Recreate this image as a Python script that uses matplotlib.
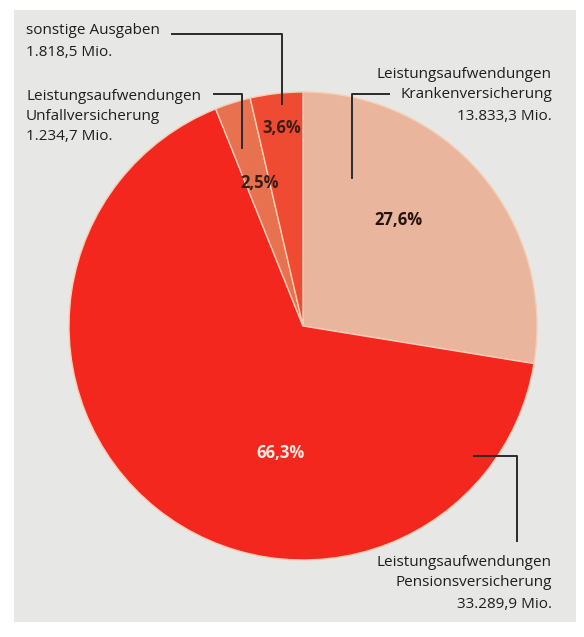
import numpy as np
import matplotlib.pyplot as plt
from matplotlib.patches import Rectangle

# Daten (Mio.)
namen = ["Krankenversicherung", "Pensionsversicherung", "Unfallversicherung", "sonstige Ausgaben"]
werte = [13833.3, 33289.9, 1234.7, 1818.5]
farben = ['#e9b59c', '#f4271f', '#e8724f', '#ee4b32']
pct_farben = ['#22140f', '#fbe9e0', '#3a1e16', '#3a1e16']

W, H = 584, 637
plt.rcParams['font.family'] = ['Open Sans', 'DejaVu Sans']

fig = plt.figure(figsize=(W / 100, H / 100), dpi=100)
fig.patch.set_facecolor('white')
ax = fig.add_axes([0, 0, 1, 1])

# grauer Hintergrund
ax.add_patch(Rectangle((14, H - 622), 562, 612, facecolor='#e7e7e5', edgecolor='none', zorder=0))

def py(y):
    # Pixel-y (von oben) -> Daten-y
    return H - y

cx, cy, r = 303, py(326), 234

wedges, texts, autotexts = ax.pie(
    werte,
    colors=farben,
    startangle=90,
    counterclock=False,
    center=(cx, cy),
    radius=r,
    autopct=lambda p: f"{p:.1f}%".replace('.', ','),
    wedgeprops=dict(edgecolor='#f6cdb5', linewidth=1.0),
    textprops=dict(fontsize=12, fontweight='bold'),
    frame=True,
)
ax.set_xlim(0, W)
ax.set_ylim(0, H)
ax.set_aspect('equal')
ax.axis('off')

# Position der Prozentwerte (Abstand relativ zum Radius, Winkel)
pct_abstand = [0.61, 0.55, 0.64, 0.85]
pct_winkel = [48, 260, 107, 96]
for t, d, a, c in zip(autotexts, pct_abstand, pct_winkel, pct_farben):
    t.set_position((cx + d * r * np.cos(np.radians(a)), cy + d * r * np.sin(np.radians(a))))
    t.set_color(c)

txt = '#1e1e1e'
fs = 11
fw = 'medium'
lc = '#2a2a2a'
lw = 1.4

# sonstige Ausgaben
ax.text(26, py(31), "sonstige Ausgaben", fontsize=fs, fontweight=fw, color=txt, va='center', ha='left')
ax.text(26, py(52), "1.818,5 Mio.", fontsize=fs, fontweight=fw, color=txt, va='center', ha='left')
ax.plot([172, 282, 282], [py(34), py(34), py(104)], color=lc, lw=lw)

# Unfallversicherung
ax.text(26, py(96), "Leistungsaufwendungen", fontsize=fs, fontweight=fw, color=txt, va='center', ha='left')
ax.text(26, py(117), "Unfallversicherung", fontsize=fs, fontweight=fw, color=txt, va='center', ha='left')
ax.text(26, py(137), "1.234,7 Mio.", fontsize=fs, fontweight=fw, color=txt, va='center', ha='left')
ax.plot([214, 242, 242], [py(94), py(94), py(148)], color=lc, lw=lw)

# Krankenversicherung
ax.text(552, py(74), "Leistungsaufwendungen", fontsize=fs, fontweight=fw, color=txt, va='center', ha='right')
ax.text(552, py(95), "Krankenversicherung", fontsize=fs, fontweight=fw, color=txt, va='center', ha='right')
ax.text(552, py(116), "13.833,3 Mio.", fontsize=fs, fontweight=fw, color=txt, va='center', ha='right')
ax.plot([389, 352, 352], [py(94), py(94), py(178)], color=lc, lw=lw)

# Pensionsversicherung
ax.text(552, py(562), "Leistungsaufwendungen", fontsize=fs, fontweight=fw, color=txt, va='center', ha='right')
ax.text(552, py(583), "Pensionsversicherung", fontsize=fs, fontweight=fw, color=txt, va='center', ha='right')
ax.text(552, py(604), "33.289,9 Mio.", fontsize=fs, fontweight=fw, color=txt, va='center', ha='right')
ax.plot([474, 517, 517], [py(456), py(456), py(541)], color=lc, lw=lw)

fig.savefig('out.png', dpi=100, facecolor=fig.get_facecolor())
